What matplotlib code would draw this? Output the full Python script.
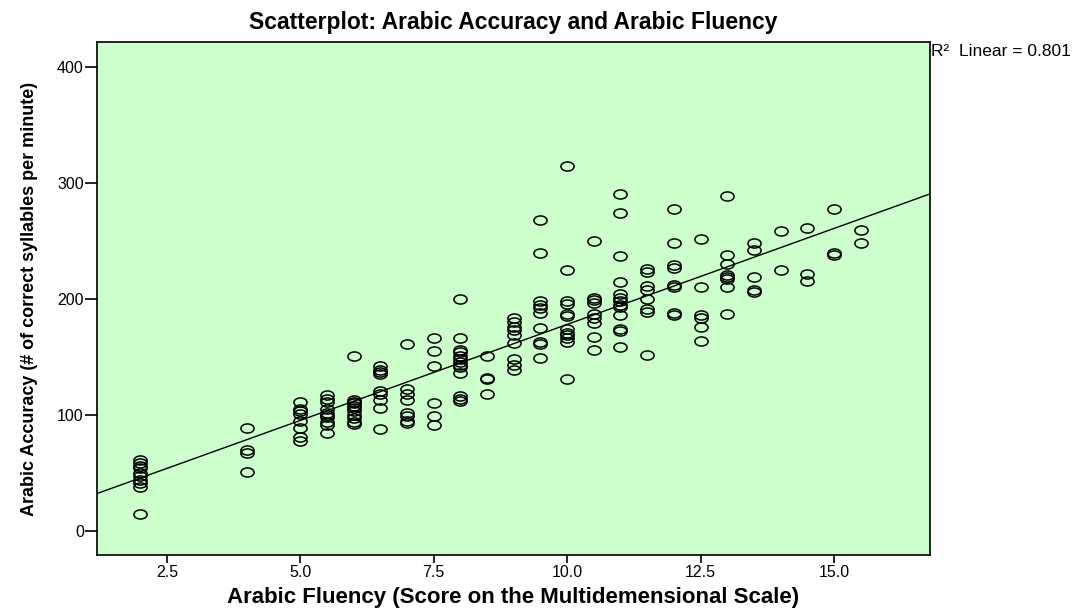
import numpy as np
import matplotlib
matplotlib.use('Agg')
import matplotlib.pyplot as plt
from matplotlib.path import Path

plt.rcParams['font.family'] = ['Liberation Sans', 'DejaVu Sans']

# Fluency score -> list of accuracy values
fluency_levels = [2.0, 4.0, 5.0, 5.5, 6.0, 6.5, 7.0, 7.5, 8.0, 8.5, 9.0, 9.5,
                  10.0, 10.5, 11.0, 11.5, 12.0, 12.5, 13.0, 13.5, 14.0, 14.5, 15.0, 15.5]
accuracy_groups = [
    [61, 58, 56, 54, 50, 47, 44, 41, 38, 14],
    [89, 70, 67, 51],
    [111, 105, 103, 101, 95, 89, 81, 77],
    [117, 114, 111, 105, 102, 100, 98, 94, 91, 84],
    [151, 113, 111, 110, 108, 106, 103, 100, 97, 94, 92],
    [142, 139, 137, 135, 121, 118, 113, 106, 88],
    [161, 122, 118, 113, 102, 99, 95, 93],
    [166, 155, 142, 110, 99, 91],
    [200, 166, 156, 154, 151, 148, 146, 143, 141, 136, 116, 114, 112],
    [151, 132, 131, 118],
    [184, 180, 176, 173, 169, 162, 148, 143, 139],
    [268, 240, 198, 195, 192, 188, 175, 163, 161, 149],
    [315, 225, 198, 196, 187, 185, 174, 171, 169, 166, 163, 131],
    [250, 201, 199, 197, 187, 184, 179, 167, 156],
    [291, 274, 237, 215, 204, 201, 198, 195, 193, 186, 174, 172, 159],
    [226, 223, 211, 208, 200, 191, 189, 152],
    [278, 248, 229, 227, 212, 210, 188, 186],
    [252, 210, 186, 184, 176, 164],
    [289, 238, 230, 221, 219, 217, 210, 187],
    [248, 242, 219, 208, 206],
    [259, 225],
    [261, 222, 216],
    [278, 240, 238],
    [260, 248],
]

fluency = np.concatenate([[f] * len(a) for f, a in zip(fluency_levels, accuracy_groups)])
accuracy = np.concatenate([np.array(a, dtype=float) for a in accuracy_groups])

xticks = [2.5, 5.0, 7.5, 10.0, 12.5, 15.0]
yticks = [0, 100, 200, 300, 400]

# open ellipse marker (wider than tall)
circ = Path.unit_circle()
ellipse = Path(circ.vertices * np.array([1.45, 1.0]), circ.codes)

fig = plt.figure(figsize=(10.82, 6.11), dpi=100)
ax = fig.add_axes([0.0896, 0.0917, 0.7699, 0.8396])
ax.set_facecolor('#ccffcc')

ax.plot(fluency, accuracy, linestyle='none', marker=ellipse, markersize=9.5,
        markerfacecolor='none', markeredgecolor='black', markeredgewidth=1.1)

ax.set_xlim(1.19, 16.8)
ax.set_ylim(-21, 422)

# linear fit line across the whole axis
slope, intercept = np.polyfit(fluency, accuracy, 1)
xl = np.array(ax.get_xlim())
ax.plot(xl, slope * xl + intercept, color='black', linewidth=1.0)

ax.set_xticks(xticks)
ax.set_xticklabels(['%.1f' % v for v in xticks])
ax.set_yticks(yticks)
ax.tick_params(direction='out', width=1.2, labelsize=11.5, colors='black', pad=1)
ax.tick_params(axis='x', length=6)
ax.tick_params(axis='y', length=8.5)
for s in ax.spines.values():
    s.set_linewidth(1.2)

ax.set_title('Scatterplot: Arabic Accuracy and Arabic Fluency',
             fontsize=16.5, fontweight='bold', pad=9)
ax.set_xlabel('Arabic Fluency (Score on the Multidemensional Scale)',
              fontsize=16, fontweight='bold', labelpad=5)
ax.set_ylabel('Arabic Accuracy (# of correct syllables per minute)',
              fontsize=13, fontweight='bold', labelpad=14)

fig.text(931 / 1082, 1 - 52 / 611, 'R\u00b2  Linear = 0.801', fontsize=12.5,
         ha='left', va='center')

fig.savefig('out.png', dpi=100)
